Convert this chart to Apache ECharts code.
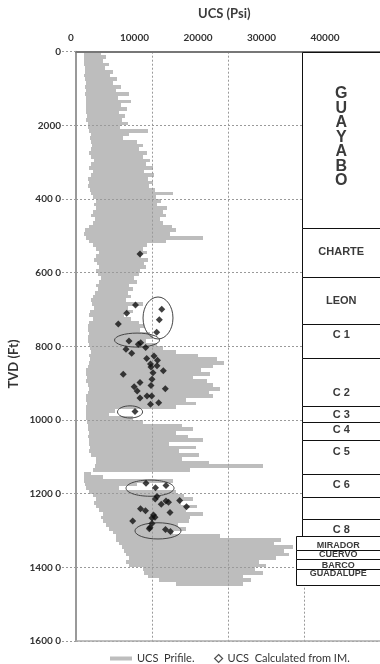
<!DOCTYPE html>
<html>
<head>
<meta charset="utf-8">
<script src="https://cdn.jsdelivr.net/npm/echarts@6/dist/echarts.min.js"></script>
<style>
html,body{margin:0;padding:0;background:#fff;}
#chart{width:380px;height:664px;}
</style>
</head>
<body>
<div id="chart"></div>
<script>
// tick labels as printed on the figure
var xTickLabels = ['0', '10000', '20000', '30000', '40000'];
var yTicks = [0, 2000, 4000, 6000, 8000, 10000, 12000, 14000, 16000];
var yTickLabels = ['0', '2000', '400 0', '600 0', '800 0', '1000 0', '1200 0', '1400 0', '1600 0'];

// UCS profile, one sample every 100 ft (left and right edge of the log trace)
var profStep = 100;
var profLow = [
  1100,1050,1100,1050,1180,1180,1100,1180,1250,1180,
  1250,1180,1250,1320,1320,1250,1320,1400,1320,1580,
  1580,1700,1970,1800,1970,2100,1970,1710,2000,2370,
  1970,1710,2240,1970,1580,1710,1580,1840,1970,2240,
  2630,2370,2630,2240,1970,2500,2240,1710,1180,1050,
  1320,1710,2240,2630,3030,2630,2370,2760,3030,2630,
  2900,3290,3030,2630,2900,2500,2240,1970,2100,2370,
  1840,1710,2240,1710,1580,1580,1710,1580,1580,1710,
  1840,1970,1710,1840,1710,1580,1320,1320,1400,1320,
  1580,1710,1580,1320,1320,1400,1320,1320,1320,1320,
  1450,1580,1580,1710,1580,1710,1710,1840,1710,1970,
  2630,2630,2500,2240,1050,1050,1050,1180,1320,1710,
  2240,2630,2370,2630,3030,3550,3290,3550,4000,4340,
  4870,5260,5260,5660,6000,6300,6580,6970,6580,7000,
  8820,9000,9500,10900,13200
];
var profHigh = [
  3300,3900,3600,4300,3800,4900,4500,5400,4800,5900,
  5200,7000,5500,7200,5900,6600,5700,6400,6000,6800,
  5800,9500,7000,6200,8000,8800,8300,9400,8900,9800,
  9200,10100,9000,10300,9500,10100,9600,10400,12800,10500,
  11200,10600,12000,11400,11800,11000,11500,12600,13200,12400,
  16700,11800,9400,8800,9300,8600,9500,8900,9200,8400,
  8300,7600,8000,7000,7500,6800,7200,6600,8800,6900,
  7500,6300,7200,8300,9000,8400,9800,10100,9200,10600,
  11500,13200,16000,18600,19500,18000,16500,17600,15400,17200,
  18000,19000,17500,18000,14500,15800,13200,5200,4300,7500,
  8800,14000,15400,13200,14800,16700,12200,15800,13600,16200,
  14000,17500,24600,15000,2000,3500,12700,8000,5600,13200,
  14200,15400,13800,15900,14500,16700,15000,14900,13500,14500,
  12800,19000,27000,26000,28500,27300,28000,26300,24100,25000,
  23500,24600,22000,23000,22000
];

// UCS calculated from IM (psi, ft)
var imUcs = [
  8420,7830,11280,6670,10960,5570,10620,6970,8200,8510,
  9170,6580,7330,9300,10260,10720,9800,9870,10660,11490,
  10130,6220,10000,8420,9870,7660,8050,11750,8420,9340,
  9960,10880,9800,7760,
  9210,10460,11840,10660,10430,11840,12170,11220,13645,14540,
  8490,9145,12370,10200,10395,10000,7460,10000,9740,9650,
  11780,12430
];
var imDepth = [
  5490,6880,6990,7100,7280,7390,7620,7855,7940,7900,
  8030,8080,8190,8330,8260,8380,8480,8560,8530,8660,
  8720,8760,8890,8980,9060,9100,9210,9150,9400,9350,
  9350,9530,9575,9770,
  11720,11840,11780,12080,12145,12200,12235,12290,12185,12355,
  12410,12465,12510,12580,12640,12660,12740,12810,12920,12950,
  12970,13030
];

// circled groups: centre and half axes
var ringUcs = [10790, 8030, 7110, 9740, 10790];
var ringDepth = [7230, 7830, 9780, 11850, 13010];
var ringHalfUcs = [1970, 2960, 1650, 3160, 3030];
var ringHalfDepth = [570, 190, 165, 220, 220];

// formation column
var unitNames = ['GUAYABO','CHARTE','LEON','C 1','C 2','C 3','C 4','C 5','C 6','','C 8','MIRADOR','CUERVO','BARCO','GUADALUPE'];
var unitTop = [0,4787,6117,7393,8316,9620,10054,10543,11466,12090,12688,13149,13530,13774,14045];
var unitBase = [4787,6117,7393,8316,9620,10054,10543,11466,12090,12688,13149,13530,13774,14045,14480];
var unitLabelDepth = [2319,5439,6768,7692,9266,9864,10271,10868,11764,null,12988,13394,13665,13937,14181];

var chart = echarts.init(document.getElementById('chart'));
var gridDash = {color: '#9a9a9a', type: [2, 2], width: 1};
var firstWide = unitNames.indexOf('MIRADOR');

chart.setOption({
  animation: false,
  title: {
    text: 'UCS (Psi)',
    left: 193,
    top: 2,
    textStyle: {fontFamily: 'Lato', fontWeight: 'bold', fontSize: 13, color: '#3c3c3c'}
  },
  legend: [{
    data: [{name: 'UCS  Prifile.', icon: 'rect'}],
    left: 105,
    top: 648,
    itemWidth: 22,
    itemHeight: 4,
    textStyle: {fontFamily: 'Lato', fontSize: 11, color: '#333'}
  }, {
    data: [{name: 'UCS  Calculated from IM.', icon: 'diamond',
      itemStyle: {color: '#fff', borderColor: '#222', borderWidth: 1.2}}],
    left: 209,
    top: 648,
    itemWidth: 8,
    itemHeight: 8,
    textStyle: {fontFamily: 'Lato', fontSize: 11, color: '#333'}
  }],
  graphic: [{
    type: 'text',
    x: 14,
    y: 364,
    rotation: Math.PI / 2,
    style: {text: 'TVD (Ft)', align: 'center', verticalAlign: 'middle',
      fontFamily: 'Lato', fontWeight: 'bold', fontSize: 13, fill: '#333'}
  }],
  grid: [
    {left: 76, top: 51.7, width: 304, height: 589.3},
    {left: 71, top: 51.7, width: 254, height: 1},
    {left: 296, top: 51.7, width: 84, height: 589.3}
  ],
  xAxis: [{
    gridIndex: 0,
    type: 'value',
    position: 'top',
    min: 0, max: 40000, interval: 10000,
    z: 3,
    axisLine: {show: true, lineStyle: {color: '#777', width: 2}},
    axisTick: {show: false},
    axisLabel: {show: false},
    splitLine: {show: true, lineStyle: gridDash}
  }, {
    gridIndex: 0,
    type: 'value',
    position: 'bottom',
    min: 0, max: 40000,
    z: 3,
    axisLine: {show: true, lineStyle: {color: '#aaa', width: 1.5}},
    axisTick: {show: false},
    axisLabel: {show: false},
    splitLine: {show: false}
  }, {
    gridIndex: 1,
    type: 'category',
    position: 'top',
    data: xTickLabels,
    boundaryGap: false,
    axisLine: {show: false},
    axisTick: {show: false},
    axisLabel: {margin: 9, interval: 0, fontFamily: 'Lato', fontWeight: 'bold', fontSize: 10, color: '#333'}
  }, {
    gridIndex: 2,
    type: 'value',
    min: 0, max: 1,
    show: false
  }],
  yAxis: [{
    gridIndex: 0,
    type: 'value',
    inverse: true,
    min: 0, max: 16000, interval: 2000,
    z: 3,
    axisLine: {show: true, lineStyle: {color: '#999', width: 2}},
    axisTick: {show: true, length: 14, lineStyle: gridDash},
    axisLabel: {
      margin: 15,
      fontFamily: 'Lato', fontWeight: 'bold', fontSize: 10, color: '#333',
      formatter: function (v) {
        var i = yTicks.indexOf(v);
        return i < 0 ? '' : yTickLabels[i];
      }
    },
    splitLine: {show: true, lineStyle: gridDash}
  }, {
    gridIndex: 1,
    type: 'value',
    show: false
  }, {
    gridIndex: 2,
    type: 'value',
    inverse: true,
    min: 0, max: 16000,
    show: false
  }],
  series: [{
    name: 'UCS  Prifile.',
    type: 'custom',
    xAxisIndex: 0,
    yAxisIndex: 0,
    z: 2,
    itemStyle: {color: '#bdbdbd'},
    encode: {x: [1, 2], y: 0},
    data: profLow.map(function (v, i) { return [i * profStep, v, profHigh[i]]; }),
    renderItem: function (params, api) {
      var d = api.value(0);
      var p0 = api.coord([api.value(1), d]);
      var p1 = api.coord([api.value(2), d + profStep]);
      var y0 = Math.round(p0[1]), y1 = Math.round(p1[1]);
      return {
        type: 'rect',
        shape: {x: Math.round(p0[0]), y: y0, width: Math.round(p1[0] - p0[0]), height: y1 - y0},
        style: {fill: '#bdbdbd'}
      };
    }
  }, {
    name: 'UCS  Calculated from IM.',
    type: 'scatter',
    xAxisIndex: 0,
    yAxisIndex: 0,
    z: 4,
    symbol: 'diamond',
    symbolSize: 7,
    itemStyle: {color: '#111'},
    data: imUcs.map(function (v, i) { return [v, imDepth[i]]; })
  }, {
    name: 'rings',
    type: 'custom',
    xAxisIndex: 0,
    yAxisIndex: 0,
    z: 4,
    data: ringUcs.map(function (v, i) { return [v, ringDepth[i], ringHalfUcs[i], ringHalfDepth[i]]; }),
    renderItem: function (params, api) {
      var c = api.coord([api.value(0), api.value(1)]);
      var s = api.size([api.value(2), api.value(3)]);
      return {
        type: 'ellipse',
        shape: {cx: c[0], cy: c[1], rx: s[0], ry: s[1]},
        style: {fill: 'none', stroke: '#444', lineWidth: 1}
      };
    }
  }, {
    name: 'units',
    type: 'custom',
    xAxisIndex: 3,
    yAxisIndex: 2,
    z: 6,
    data: unitNames.map(function (n, i) { return [unitTop[i], unitBase[i], unitLabelDepth[i]]; }),
    renderItem: function (params, api) {
      var i = params.dataIndex;
      var wide = i >= firstWide;
      var a = api.coord([wide ? 0 : 6 / 84, api.value(0)]);
      var b = api.coord([1, api.value(1)]);
      var x0 = Math.round(a[0]) + 0.5, y0 = Math.round(a[1]) + 0.5;
      var x1 = Math.round(b[0]) + 0.5, y1 = Math.round(b[1]) + 0.5;
      var kids = [{
        type: 'rect',
        shape: {x: x0, y: y0, width: x1 - x0, height: y1 - y0},
        style: {fill: '#fff', stroke: '#111', lineWidth: 1}
      }];
      var name = unitNames[i];
      if (name) {
        var ly = api.coord([0, unitLabelDepth[i]])[1];
        var big = i === 0;
        kids.push({
          type: 'text',
          style: {
            text: big ? name.split('').join('\n') : name,
            x: (x0 + 380) / 2,
            y: ly,
            align: 'center',
            verticalAlign: 'middle',
            lineHeight: big ? 14.5 : undefined,
            fontFamily: 'Liberation Sans',
            fontWeight: 'bold',
            fontSize: big ? 16 : (wide ? 9 : 11),
            fill: '#3a3a3a'
          }
        });
      }
      return {type: 'group', children: kids};
    }
  }]
});
</script>
</body>
</html>
